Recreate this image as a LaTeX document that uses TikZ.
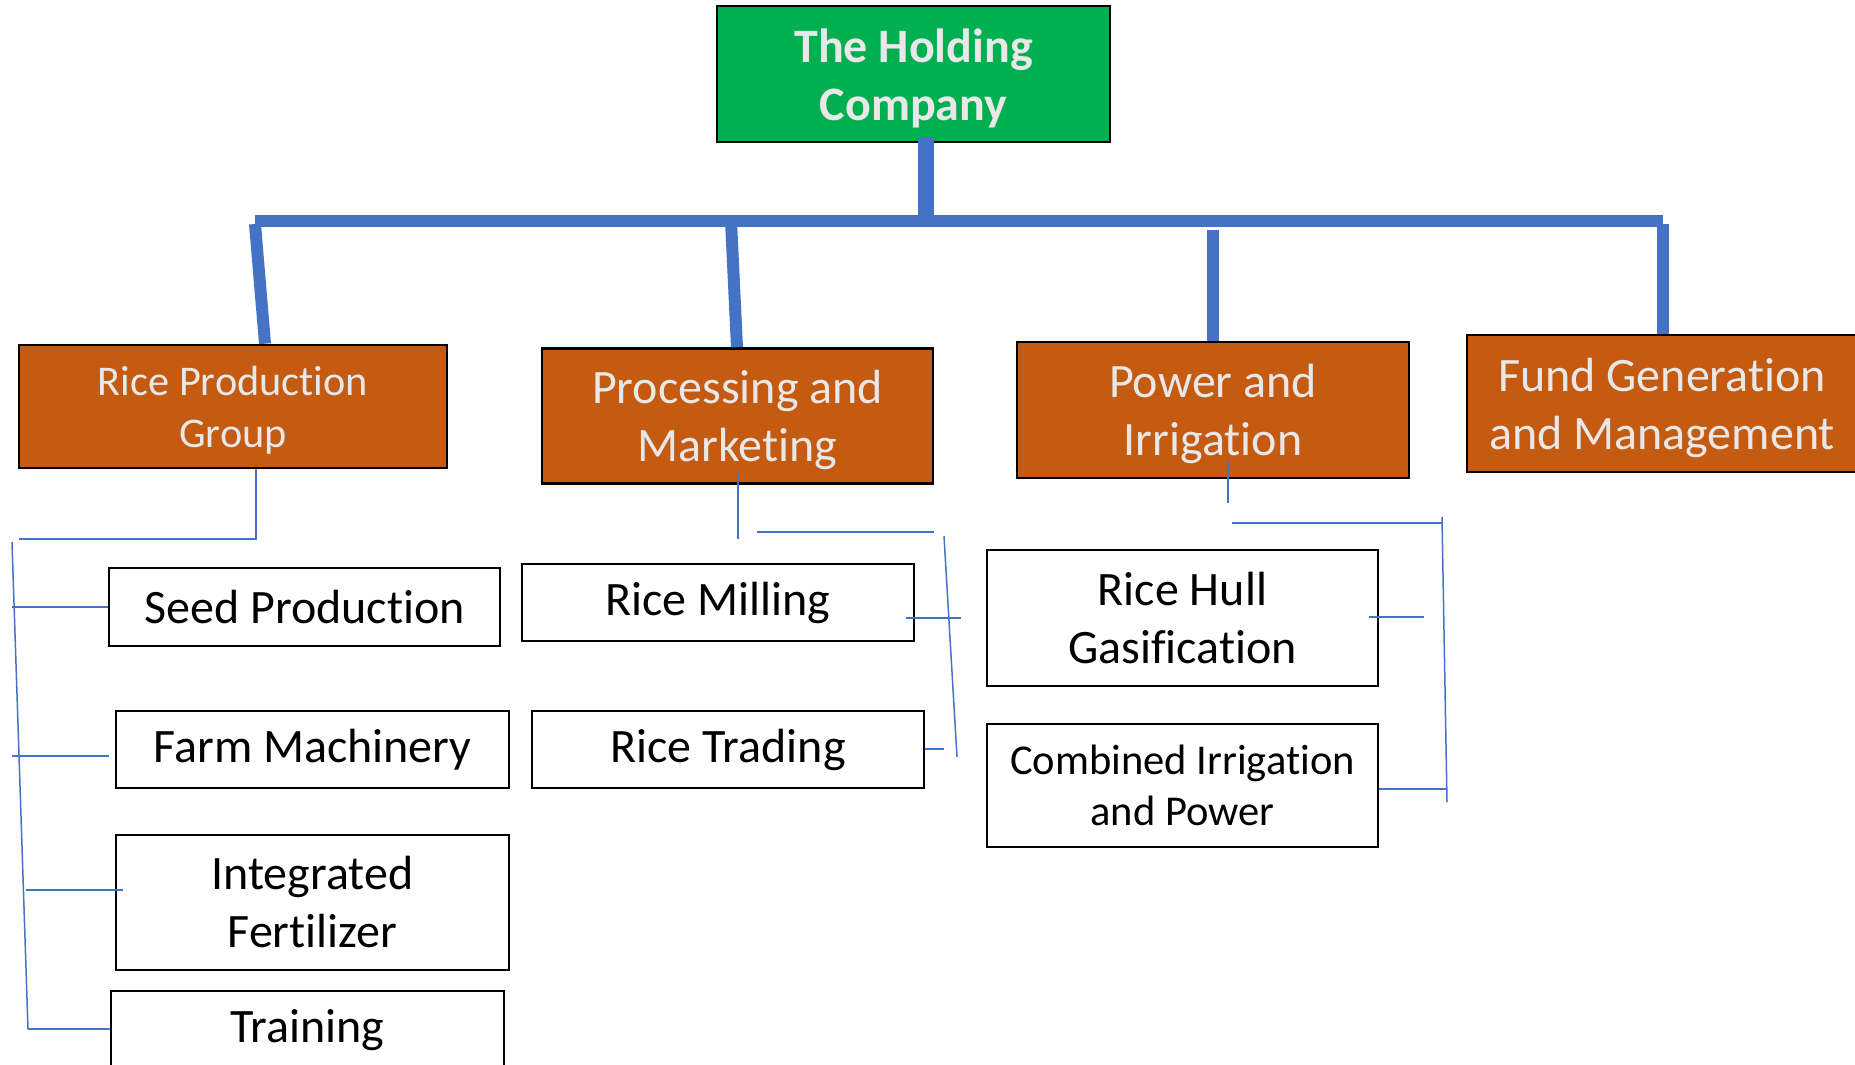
\documentclass[tikz,border=0pt]{standalone}
\usepackage{fontspec}
\setmainfont{Carlito}[Ligatures=NoCommon]
\definecolor{hgreen}{HTML}{00B050}
\definecolor{horange}{HTML}{C55A11}
\definecolor{hblue}{HTML}{4472C4}
\definecolor{hlight}{HTML}{E8E8E8}
\begin{document}
\begin{tikzpicture}[x=1pt,y=-1pt,
  boxbase/.style={draw=black, line width=2.6pt, inner sep=0pt},
  txtbase/.style={inner sep=0pt, align=center},
  topbox/.style={boxbase, fill=hgreen},
  toptext/.style={txtbase, yshift=-4pt, text=hlight, font=\fontsize{48}{58}\selectfont\bfseries},
  groupbox/.style={boxbase, fill=horange},
  grouptext/.style={txtbase, yshift=-4pt, text=hlight, font=\fontsize{48}{58}\selectfont},
  smallgrouptext/.style={txtbase, yshift=-4pt, text=hlight, font=\fontsize{42.3}{52}\selectfont},
  unitbox/.style={boxbase, fill=white},
  unittext/.style={txtbase, yshift=-0.5pt, text=black, font=\fontsize{48}{58}\selectfont},
  smallunittext/.style={txtbase, text=black, font=\fontsize{42.5}{51}\selectfont},
  thickc/.style={draw=hblue, line width=12pt},
  thinc/.style={draw=hblue, line width=1.5pt}]
\useasboundingbox (0,0) rectangle (1855,1065);
\clip (0,0) rectangle (1855,1065);

\coordinate (hub) at (926,221);
\coordinate (barL) at (255,221);
\coordinate (barR) at (1663,221);

% top
\node[topbox, minimum width=393, minimum height=136, label={[toptext]center:{The Holding\\Company}}] (top) at (913.5,74) {};

% groups
\node[groupbox, minimum width=428, minimum height=123, label={[smallgrouptext]center:{Rice Production\\Group}}] (rpg) at (233,406.5) {};
\node[groupbox, minimum width=391, minimum height=135, label={[grouptext]center:{Processing and\\Marketing}}] (pm) at (737.5,416) {};
\node[groupbox, minimum width=392, minimum height=136, label={[grouptext]center:{Power and\\Irrigation}}] (pi) at (1213,410) {};
\node[groupbox, minimum width=390, minimum height=137, label={[grouptext]center:{Fund Generation\\and Management}}] (fg) at (1662,403.5) {};

% units
\node[unitbox, minimum width=391, minimum height=78, label={[unittext]center:{Seed Production}}] (sp) at (304.5,607) {};
\node[unitbox, minimum width=393, minimum height=77, label={[unittext]center:{Farm Machinery}}] (fm) at (312.5,749.5) {};
\node[unitbox, minimum width=393, minimum height=135, label={[unittext, yshift=0.5pt]center:{Integrated\\Fertilizer}}] (ifz) at (312.5,902.5) {};
\node[unitbox, minimum width=393, minimum height=78, label={[unittext]center:{Training}}] (tr) at (307.5,1030) {};
\node[unitbox, minimum width=392, minimum height=77, label={[unittext]center:{Rice Milling}}] (rm) at (718,602.5) {};
\node[unitbox, minimum width=392, minimum height=77, label={[unittext]center:{Rice Trading}}] (rt) at (728,749.5) {};
\node[unitbox, minimum width=391, minimum height=136, label={[unittext, yshift=0.5pt]center:{Rice Hull\\Gasification}}] (rh) at (1182.5,618) {};
\node[unitbox, minimum width=391, minimum height=123, label={[smallunittext]center:{Combined Irrigation\\and Power}}] (ci) at (1182.5,785.5) {};

% thick connectors
\draw[thickc, line width=16pt] ([yshift=6pt]top.south -| hub) -- ([yshift=-6pt]hub);
\draw[thickc] (barL) -- (barR);
\draw[thickc] (255,224) -- (rpg.north -| 265,0);
\draw[thickc] (731,221) -- (pm.north -| 737,0);
\draw[thickc] (1213,230) -- (pi.north);
\draw[thickc] (1663,224) -- (fg.north -| 1663,0);

% thin connectors: Rice Production Group
\coordinate (r1) at (256,539);
\coordinate (r2) at (19,539);
\draw[thinc] (rpg.south -| r1) -- (r1) -- (r2);
\coordinate (rt1) at (12,542);
\coordinate (rb1) at (28,1029);
\draw[thinc] (rt1) -- (rb1);
\draw[thinc] (12,607) -- (sp.west);
\draw[thinc] (12,756) -- (109,756);
\draw[thinc] (26,890) -- (123,890);
\draw[thinc] (rb1) -- (tr.west |- rb1);

% thin connectors: Processing and Marketing
\draw[thinc] (738,473) -- (738,539);
\draw[thinc] (757,532) -- (pm.south east |- 0,532);
\coordinate (pt1) at (944,536);
\coordinate (pb1) at (957,757);
\draw[thinc] (pt1) -- (pb1);
\draw[thinc] (906,618) -- (961,618);
\draw[thinc] (rt.east |- 0,749) -- (944,749);

% thin connectors: Power and Irrigation
\draw[thinc] (1228,461) -- (1228,503);
\coordinate (it1) at (1442,517);
\coordinate (ib1) at (1447,802);
\draw[thinc] (1232,523) -- (1442,523);
\draw[thinc] (it1) -- (ib1);
\draw[thinc] (1369,617) -- (1424,617);
\draw[thinc] (ci.east |- 0,789) -- (1447,789);
\end{tikzpicture}
\end{document}
